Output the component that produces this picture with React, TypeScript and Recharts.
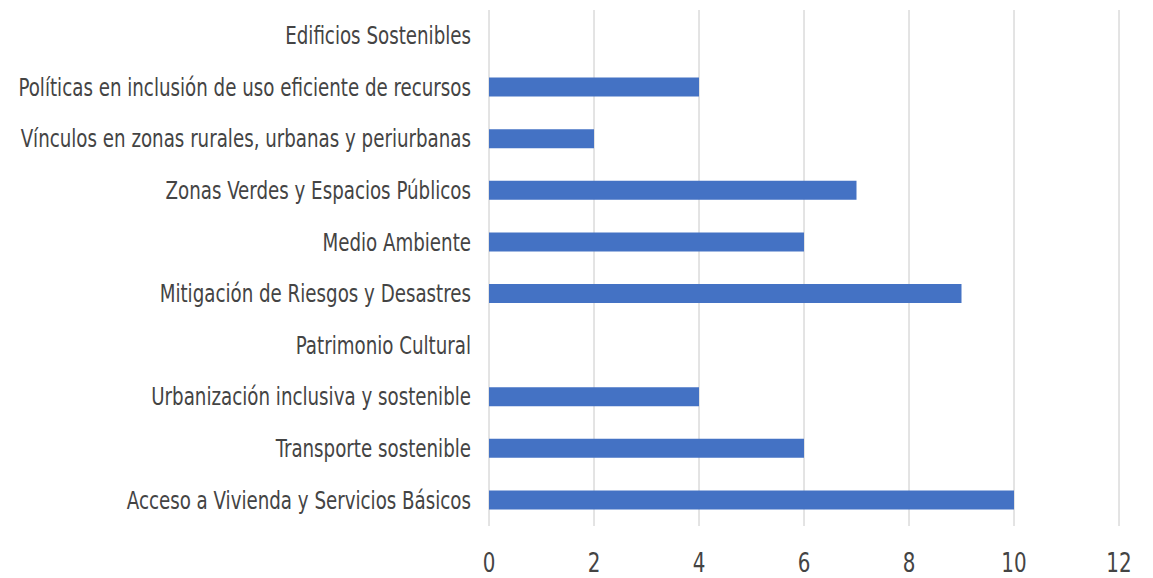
import { BarChart, Bar, XAxis, YAxis, CartesianGrid } from "recharts";

const categories = [
  "Edificios Sostenibles",
  "Políticas en inclusión de uso eficiente de recursos",
  "Vínculos en zonas rurales, urbanas y periurbanas",
  "Zonas Verdes y Espacios Públicos",
  "Medio Ambiente",
  "Mitigación de Riesgos y Desastres",
  "Patrimonio Cultural",
  "Urbanización inclusiva y sostenible",
  "Transporte sostenible",
  "Acceso a Vivienda y Servicios Básicos",
];

const values = [0, 4, 2, 7, 6, 9, 0, 4, 6, 10];

const xTicks = [0, 2, 4, 6, 8, 10, 12];

const chartData = categories.map((name, i) => ({ name, value: values[i] }));

const FONT = "'DejaVu Sans Condensed', 'Liberation Sans Narrow', sans-serif";

// the source font is narrower than anything installed, so squeeze it a little
const CategoryTick = (props: any) => {
  const { x, y, payload } = props;
  return (
    <g transform={`translate(${x},${y}) scale(0.845,1)`}>
      <text textAnchor="end" dy="0.35em" fill="#444" fontSize={24} fontFamily={FONT}>
        {payload.value}
      </text>
    </g>
  );
};

const ValueTick = (props: any) => {
  const { x, y, payload } = props;
  return (
    <g transform={`translate(${x},${y}) scale(0.85,1)`}>
      <text textAnchor="middle" dy="0.71em" fill="#444" fontSize={26} fontFamily={FONT}>
        {payload.value}
      </text>
    </g>
  );
};

export default function App() {
  return (
    <div style={{ position: "absolute", left: 0, top: 0, background: "#fff" }}>
      <BarChart
        width={1153}
        height={578}
        data={chartData}
        layout="vertical"
        margin={{ top: 10, right: 34, bottom: 12, left: 0 }}
        barSize={19}
      >
        <CartesianGrid horizontal={false} stroke="#c8c8c8" />
        <XAxis
          type="number"
          domain={[0, 12]}
          ticks={xTicks}
          axisLine={false}
          tickLine={false}
          tickSize={0}
          tickMargin={28}
          height={40}
          tick={<ValueTick />}
        />
        <YAxis
          type="category"
          dataKey="name"
          width={489}
          axisLine={false}
          tickLine={false}
          tickSize={0}
          tickMargin={18}
          interval={0}
          tick={<CategoryTick />}
        />
        <Bar dataKey="value" fill="#4472c4" isAnimationActive={false} />
      </BarChart>
    </div>
  );
}
